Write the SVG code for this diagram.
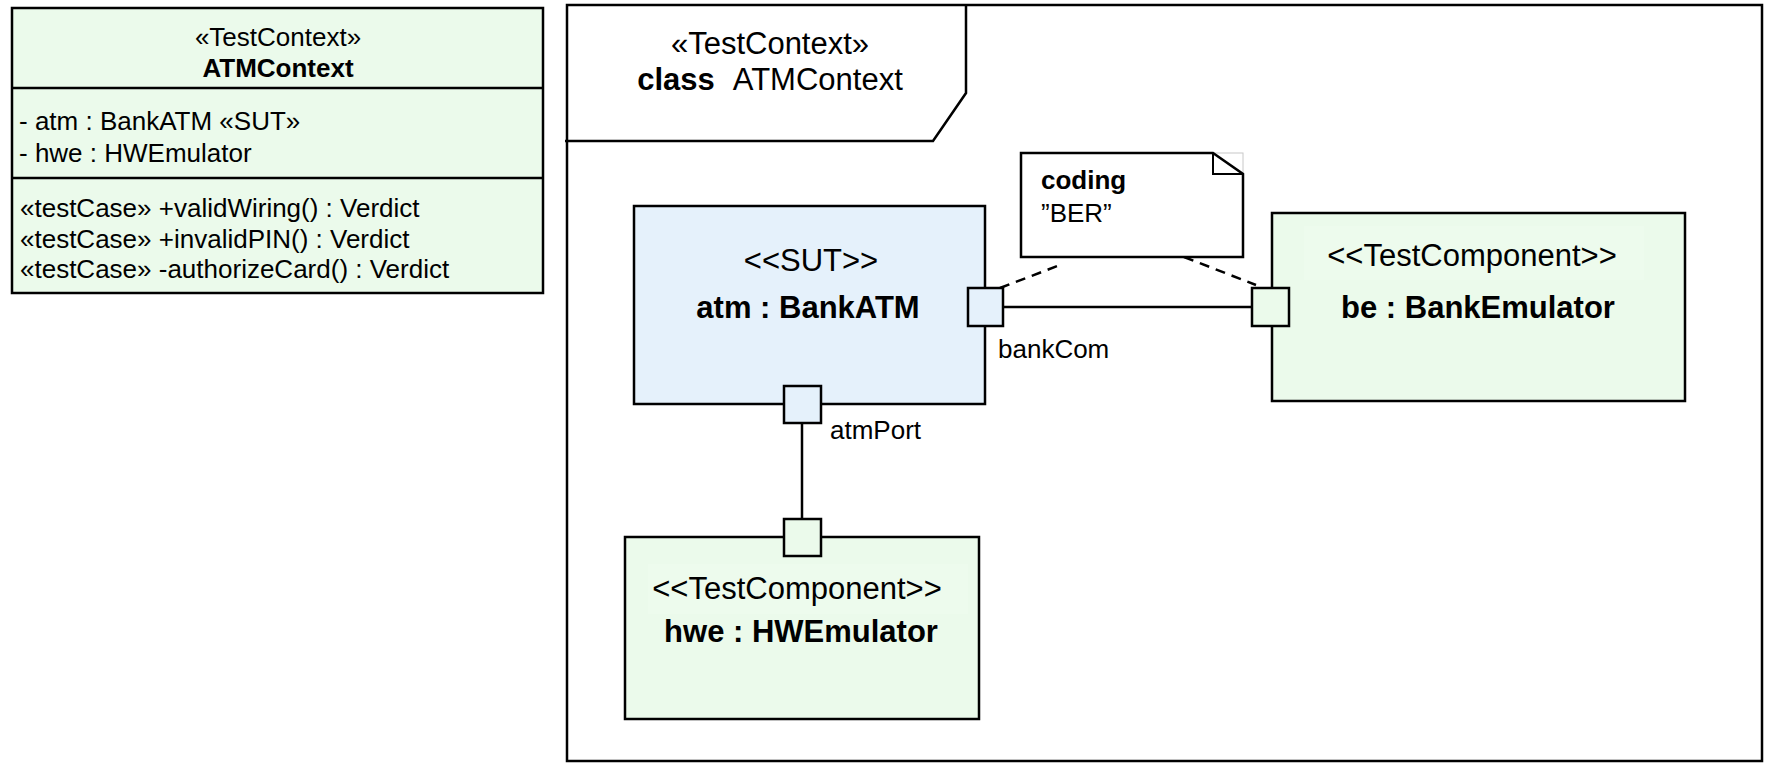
<svg xmlns="http://www.w3.org/2000/svg" width="1765" height="763" viewBox="0 0 1765 763">
  <style>
    text { font-family: "Liberation Sans", Arial, sans-serif; fill: #000; }
    .s26 { font-size: 26px; }
    .s31 { font-size: 31px; }
    .b { font-weight: bold; }
    .mid { text-anchor: middle; }
    .box { stroke: #000; stroke-width: 2.5; }
    .green { fill: #EBFAEB; }
    .blue { fill: #E5F1FB; }
    .conn { fill: none; stroke: #000; stroke-width: 2.5; }
    .dash { fill: none; stroke: #000; stroke-width: 2.5; stroke-dasharray: 10 7; }
  </style>

  <!-- Class ATMContext with attribute and operation compartments -->
  <g id="class-atmcontext">
    <rect class="box green" x="12" y="8" width="531" height="285"/>
    <line class="box" x1="12" y1="88" x2="543" y2="88"/>
    <line class="box" x1="12" y1="178" x2="543" y2="178"/>
    <text class="s26 mid" x="278" y="46">«TestContext»</text>
    <text class="s26 b mid" x="278" y="77">ATMContext</text>
    <text class="s26" x="19" y="130">- atm : BankATM «SUT»</text>
    <text class="s26" x="19" y="162">- hwe : HWEmulator</text>
    <text class="s26" x="20" y="217">«testCase» +validWiring() : Verdict</text>
    <text class="s26" x="20" y="248">«testCase» +invalidPIN() : Verdict</text>
    <text class="s26" x="20" y="278">«testCase» -authorizeCard() : Verdict</text>
  </g>

  <!-- Composite structure frame -->
  <g id="frame-atmcontext">
    <rect x="567" y="5" width="1195" height="756" fill="#fff" stroke="#000" stroke-width="2.5"/>
    <path d="M565 141 H933 L966 93 V5" fill="none" stroke="#000" stroke-width="2.5"/>
    <text class="s31 mid" x="770" y="54">«TestContext»</text>
    <text class="s31 mid" x="770" y="90"><tspan class="b">class</tspan><tspan dx="18">ATMContext</tspan></text>
  </g>

  <!-- Connectors -->
  <g id="connectors">
    <line class="conn" x1="1003" y1="307" x2="1252" y2="307"/>
    <line class="conn" x1="802" y1="423" x2="802" y2="519"/>
    <line class="dash" x1="1000" y1="288" x2="1060" y2="265"/>
    <line class="dash" x1="1184" y1="257" x2="1256" y2="285"/>
  </g>

  <!-- Part atm : BankATM -->
  <g id="part-atm">
    <rect class="box blue" x="634" y="206" width="351" height="198"/>
    <text class="s31 mid" x="811" y="271">&lt;&lt;SUT&gt;&gt;</text>
    <text class="s31 b mid" x="808" y="318">atm : BankATM</text>
  </g>

  <!-- Part hwe : HWEmulator -->
  <g id="part-hwe">
    <rect class="box green" x="625" y="537" width="354" height="182"/>
    <rect x="648" y="564" width="320" height="50" fill="#EDFBED"/>
    <text class="s31 mid" x="797" y="599">&lt;&lt;TestComponent&gt;&gt;</text>
    <text class="s31 b mid" x="801" y="642">hwe : HWEmulator</text>
  </g>

  <!-- Part be : BankEmulator -->
  <g id="part-be">
    <rect class="box green" x="1272" y="213" width="413" height="188"/>
    <rect x="1304" y="226" width="340" height="54" fill="#EDFBED"/>
    <text class="s31 mid" x="1472" y="266">&lt;&lt;TestComponent&gt;&gt;</text>
    <text class="s31 b mid" x="1478" y="318">be : BankEmulator</text>
  </g>

  <!-- Ports -->
  <g id="port-bankcom">
    <rect class="box blue" x="968" y="288" width="35" height="38"/>
    <text class="s26" x="998" y="358">bankCom</text>
  </g>
  <g id="port-atmport">
    <rect class="box blue" x="784" y="386" width="37" height="37"/>
    <text class="s26" x="830" y="439">atmPort</text>
  </g>
  <g id="port-hwe">
    <rect class="box green" x="784" y="519" width="37" height="37"/>
  </g>
  <g id="port-be">
    <rect class="box green" x="1252" y="288" width="37" height="38"/>
  </g>

  <!-- Comment note: coding "BER" -->
  <g id="note-coding">
    <rect x="1213" y="153" width="30" height="21" fill="none" stroke="#c8c8c8" stroke-width="1"/>
    <path d="M1021 153 H1213 L1243 174 V257 H1021 Z" fill="#fff" stroke="#000" stroke-width="2.5"/>
    <path d="M1213 153 V174 H1243" fill="none" stroke="#000" stroke-width="2"/>
    <text class="s26 b" x="1041" y="189">coding</text>
    <text class="s26" x="1041" y="222">”BER”</text>
  </g>
</svg>
